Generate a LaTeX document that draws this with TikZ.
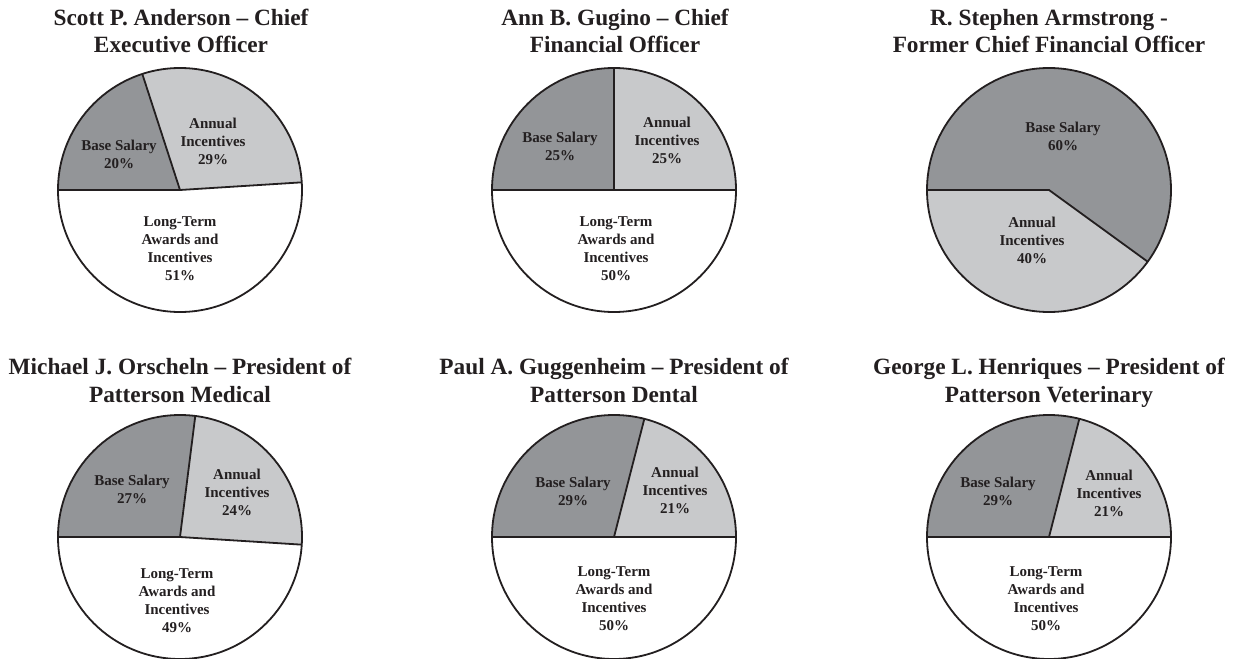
\documentclass[tikz,border=0pt]{standalone}
\usepackage{fontspec}
\setmainfont{Liberation Serif}
\definecolor{basegray}{RGB}{147,149,152}
\definecolor{annualgray}{RGB}{200,201,203}
\definecolor{inkgray}{RGB}{35,31,32}
\tikzset{
  ttl/.style={font=\bfseries\fontsize{23.3}{27.5}\selectfont, align=center, anchor=base, inner sep=0pt, text=inkgray},
  lbl/.style={font=\bfseries\fontsize{15}{17.7}\selectfont, align=center, anchor=base, inner sep=0pt, text=inkgray},
  rim/.style={line width=1.8pt, draw=inkgray},
}
\newcommand\piechart[4]{%
  \fill[basegray] (#1,#2) -- ++(180:122) arc[start angle=180,end angle=#3,radius=122] -- cycle;
  \fill[annualgray] (#1,#2) -- ++(#3:122) arc[start angle=#3,end angle=#4,radius=122] -- cycle;
  \draw[rim] (#1,#2) circle[radius=122];
  \draw[rim, line join=miter] (#1,#2) ++(180:122) -- (#1,#2) -- ++(#3:122);
  \draw[rim] (#1,#2) -- ++(#4:122);
}
\begin{document}
\begin{tikzpicture}[x=1pt,y=1pt]
\useasboundingbox (0,0) rectangle (1233,-658);
\fill[white] (0,0) rectangle (1233,-658);
% pies
\piechart{180}{-190}{108}{3.6}
\piechart{614}{-190}{90}{0}
\piechart{1049}{-190}{-36}{-180}
\piechart{180}{-537}{82.8}{-3.6}
\piechart{614}{-537}{75.6}{0}
\piechart{1049}{-537}{75.6}{0}
% titles
\node[ttl] (t1) at (181,-53) {Scott P. Anderson -- Chief\\Executive Officer};
\node[ttl] (t2) at (615,-53) {Ann B. Gugino -- Chief\\Financial Officer};
\node[ttl] (t3) at (1049,-53) {R. Stephen Armstrong -\\Former Chief Financial Officer};
\node[ttl] (t4) at (180,-402) {Michael J. Orscheln -- President of\\Patterson Medical};
\node[ttl] (t5) at (614,-402) {Paul A. Guggenheim -- President of\\Patterson Dental};
\node[ttl] (t6) at (1049,-402) {George L. Henriques -- President of\\Patterson Veterinary};
% labels pie 1
\node[lbl] (b1) at (119,-168) {Base Salary\\20\%};
\node[lbl] (a1) at (213,-164) {Annual\\Incentives\\29\%};
\node[lbl] (l1) at (180,-280) {Long-Term\\Awards and\\Incentives\\51\%};
% pie 2
\node[lbl] (b2) at (560,-160) {Base Salary\\25\%};
\node[lbl] (a2) at (667,-163) {Annual\\Incentives\\25\%};
\node[lbl] (l2) at (616,-280) {Long-Term\\Awards and\\Incentives\\50\%};
% pie 3
\node[lbl] (b3) at (1063,-150) {Base Salary\\60\%};
\node[lbl] (a3) at (1032,-263) {Annual\\Incentives\\40\%};
% pie 4
\node[lbl] (b4) at (132,-503) {Base Salary\\27\%};
\node[lbl] (a4) at (237,-515) {Annual\\Incentives\\24\%};
\node[lbl] (l4) at (177,-632) {Long-Term\\Awards and\\Incentives\\49\%};
% pie 5
\node[lbl] (b5) at (573,-505) {Base Salary\\29\%};
\node[lbl] (a5) at (675,-513) {Annual\\Incentives\\21\%};
\node[lbl] (l5) at (614,-630) {Long-Term\\Awards and\\Incentives\\50\%};
% pie 6
\node[lbl] (b6) at (998,-505) {Base Salary\\29\%};
\node[lbl] (a6) at (1109,-516) {Annual\\Incentives\\21\%};
\node[lbl] (l6) at (1046,-630) {Long-Term\\Awards and\\Incentives\\50\%};
\end{tikzpicture}
\end{document}
